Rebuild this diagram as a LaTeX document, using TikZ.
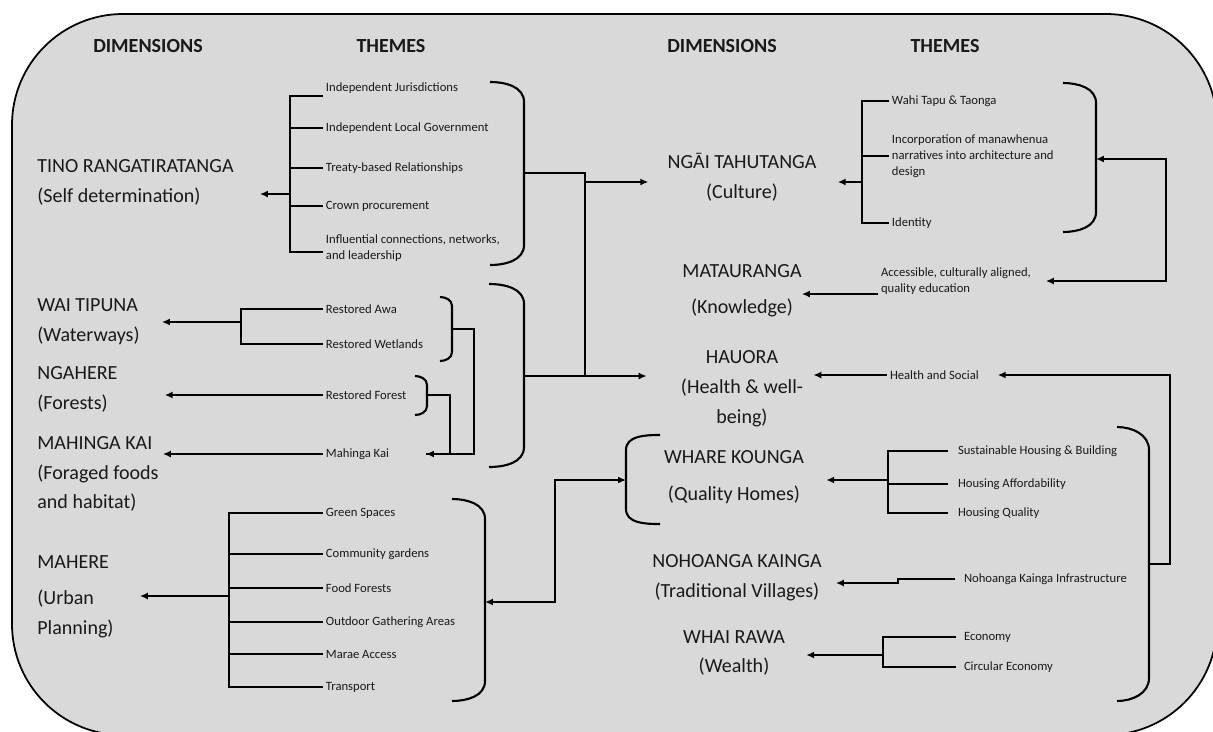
\documentclass[tikz,border=0pt]{standalone}
\usepackage{fontspec}
\setmainfont{Carlito}
\usepackage{tikz}
\usetikzlibrary{positioning, arrows.meta, calc}
\definecolor{panel}{RGB}{217,217,217}

\begin{document}
\begin{tikzpicture}[
    x=0.02cm, y=-0.02cm,
    every node/.style={inner sep=0pt, text=black!90},
    header/.style={font=\fontsize{11.4}{13}\selectfont\bfseries},
    dimleft/.style={anchor=west, align=left, font=\fontsize{11.4}{17}\selectfont},
    dimmid/.style={align=center, font=\fontsize{11.4}{17}\selectfont},
    theme/.style={anchor=west, align=left, inner sep=1.5pt, font=\fontsize{7.2}{9.1}\selectfont},
    conn/.style={black, line width=1.2pt},
    arrow/.style={conn, -{Latex[length=4.5pt, width=4pt]}},
    biarrow/.style={conn, {Latex[length=4.5pt, width=4pt]}-{Latex[length=4.5pt, width=4pt]}},
    brace/.style={black, line width=1.2pt}
]

\useasboundingbox (0,0) rectangle (1213,731);

% Panel
\begin{scope}
\clip (0,0) rectangle (1213,731);
\draw[fill=panel, line width=1pt, rounded corners=2.22cm] (12,14) rectangle (1217,735);
\end{scope}

% Headers
\node[header] (dimL) at (148,46) {DIMENSIONS};
\node[header] (thmL) at (391,46) {THEMES};
\node[header] (dimR) at (722,46) {DIMENSIONS};
\node[header] (thmR) at (945,46) {THEMES};

% Dimensions, left
\node[dimleft] (tino) at (37,182) {TINO RANGATIRATANGA\\(Self determination)};
\node[dimleft] (wai) at (37,322) {WAI TIPUNA\\(Waterways)};
\node[dimleft] (ngahere) at (37,389) {NGAHERE\\(Forests)};
\node[dimleft] (mahinga) at (37,474) {MAHINGA KAI\\(Foraged foods\\and habitat)};
\node[dimleft] (mahere) at (37,597) {MAHERE\\[3.4pt](Urban\\Planning)};

% Dimensions, right
\node[dimmid] (ngai) at (742,177) {NGĀI TAHUTANGA\\(Culture)};
\node[dimmid] (matau) at (742,291) {MATAURANGA\\[3.4pt](Knowledge)};
\node[dimmid] (hauora) at (742,389) {HAUORA\\(Health \& well-\\being)};
\node[dimmid] (whare) at (734,477) {WHARE KOUNGA\\[4pt](Quality Homes)};
\node[dimmid] (noho) at (737,578) {NOHOANGA KAINGA\\(Traditional Villages)};
\node[dimmid] (whai) at (734,653) {WHAI RAWA\\(Wealth)};

% Themes, left
\node[theme] (ij) at (323,88) {Independent Jurisdictions};
\node[theme] (ilg) at (323,128) {Independent Local Government};
\node[theme] (tbr) at (323,168) {Treaty-based Relationships};
\node[theme] (cp) at (323,206) {Crown procurement};
\node[theme] (icl) at (323,248) {Influential connections, networks,\\and leadership};
\node[theme] (ra) at (323,309) {Restored Awa};
\node[theme] (rw) at (323,344) {Restored Wetlands};
\node[theme] (rf) at (323,395) {Restored Forest};
\node[theme] (mk) at (323,454) {Mahinga Kai};
\node[theme] (gs) at (323,513) {Green Spaces};
\node[theme] (cg) at (323,554) {Community gardens};
\node[theme] (ff) at (323,588) {Food Forests};
\node[theme] (oga) at (323,622) {Outdoor Gathering Areas};
\node[theme] (ma) at (323,654) {Marae Access};
\node[theme] (tr) at (323,687) {Transport};

% Themes, right
\node[theme] (wt) at (889,101) {Wahi Tapu \& Taonga};
\node[theme] (inc) at (889,156) {Incorporation of manawhenua\\narratives into architecture and\\design};
\node[theme] (id) at (889,223) {Identity};
\node[theme] (acc) at (878,281) {Accessible, culturally aligned,\\quality education};
\node[theme] (hs) at (887,375) {Health and Social};
\node[theme] (shb) at (955,451) {Sustainable Housing \& Building};
\node[theme] (ha) at (955,484) {Housing Affordability};
\node[theme] (hq) at (955,513) {Housing Quality};
\node[theme] (nki) at (961,579) {Nohoanga Kainga Infrastructure};
\node[theme] (eco) at (961,637) {Economy};
\node[theme] (ce) at (961,667) {Circular Economy};

% Spines
\coordinate (tinoS) at (290,194);
\coordinate (waiS) at (241,322);
\coordinate (mahereS) at (229,596);
\coordinate (ngaiS) at (862,182);
\coordinate (whareS) at (888,480);
\coordinate (whaiS) at (883,655);

% Brackets
\draw[brace] (490,82) to[out=0,in=90] (524,102) -- (524,245) to[out=-90,in=0] (490,265);
\coordinate (tinoB) at (524,173);
\draw[brace] (489,284) to[out=0,in=90] (524,304) -- (524,447) to[out=-90,in=0] (489,467);
\coordinate (restB) at (524,376);
\draw[brace] (440,297) to[out=0,in=90] (452,306) -- (452,352) to[out=-90,in=0] (440,361);
\coordinate (waiB) at (452,329);
\draw[brace] (415,376) to[out=0,in=90] (427,385) -- (427,406) to[out=-90,in=0] (415,415);
\coordinate (forB) at (427,395);
\draw[brace] (452,499) to[out=0,in=90] (485,519) -- (485,681) to[out=-90,in=0] (452,701);
\coordinate (mahB) at (485,602);
\draw[brace] (1063,83) to[out=0,in=90] (1096,103) -- (1096,212) to[out=-90,in=0] (1063,232);
\coordinate (ngB) at (1096,159);
\draw[brace] (660,435) to[out=180,in=90] (626,450) -- (626,509) to[out=-90,in=180] (660,524);
\coordinate (whB) at (626,480);
\draw[brace] (1117,427) to[out=0,in=90] (1149,450) -- (1149,678) to[out=-90,in=0] (1117,701);
\coordinate (bigB) at (1149,564);

% Tino rangatiratanga
\draw[conn] (ij.south west) -| (tinoS);
\draw[conn] (ilg.west) -| (tinoS);
\draw[conn] (tbr.west) -| (tinoS);
\draw[conn] (cp.west) -| (tinoS);
\draw[conn] ([yshift=-2.3pt]icl.west) -| (tinoS);
\draw[arrow, shorten >=0.52cm] (tinoS) -- (tinoS -| tino.east);

% Wai tipuna, Ngahere, Mahinga kai
\draw[conn] (ra.west) -| (waiS);
\draw[conn] (rw.west) -| (waiS);
\draw[arrow, shorten >=0.44cm] (waiS) -- (waiS -| wai.east);
\draw[arrow, shorten >=0.94cm] (rf.west) -- (rf.west -| ngahere.east);
\draw[arrow, shorten >=0.08cm] (mk.west) -- (mk.west -| mahinga.east);
\draw[arrow, shorten >=0.68cm] (waiB) -- ++(22,0) |- (mk.east);
\draw[conn, shorten >=0.68cm] (forB) -- ++(23,0) |- (mk.east);

% Mahere
\draw[conn] (gs.west) -| (mahereS);
\draw[conn] (cg.west) -| (mahereS);
\draw[conn] (ff.west) -| (mahereS);
\draw[conn] (oga.west) -| (mahereS);
\draw[conn] (ma.west) -| (mahereS);
\draw[conn] (tr.west) -| (mahereS);
\draw[arrow, shorten >=0.52cm] (mahereS) -- (mahereS -| mahere.east);
\draw[biarrow] (mahB) -- ++(70,0) |- (whB);

% Into Ngai tahutanga and Hauora
\coordinate (hub) at (585,376);
\coordinate (hubN) at (585,182);
\draw[conn] (tinoB) -| (hub);
\draw[arrow, shorten >=0.38cm] (hubN) -- (hubN -| ngai.west);
\draw[arrow, shorten >=0.68cm] (restB) -- (restB -| hauora.west);

% Ngai tahutanga
\draw[conn] (wt.west) -| (ngaiS);
\draw[conn] (inc.west) -| (ngaiS);
\draw[conn] (id.west) -| (ngaiS);
\draw[arrow, shorten >=0.42cm] (ngaiS) -- (ngaiS -| ngai.east);
\draw[biarrow, shorten >=0.24cm] (ngB) -- ++(70,0) |- (acc.east);

% Matauranga
\coordinate (accOut) at ([yshift=-0.26cm]acc.west);
\draw[arrow] (accOut) -- (accOut -| matau.east);

% Hauora
\draw[arrow, shorten >=0.2cm] (hs.west) -- (hs.west -| hauora.east);
\draw[arrow, shorten >=0.32cm] (bigB) -- ++(21,0) |- (hs.east);

% Whare kounga
\draw[conn] ([xshift=-0.14cm]shb.west) -| (whareS);
\draw[conn] ([xshift=-0.14cm]ha.west) -| (whareS);
\draw[conn] ([xshift=-0.14cm]hq.west) -| (whareS);
\draw[arrow, shorten >=0.44cm] (whareS) -- (whareS -| whare.east);

% Nohoanga kainga
\draw[arrow, shorten >=0.28cm] ([xshift=-0.12cm]nki.west) -- ++(-57,0) -- ++(0,4) coordinate (nkS) -- (nkS -| noho.east);

% Whai rawa
\draw[conn] ([xshift=-0.1cm]eco.west) -| (whaiS);
\draw[conn] ([xshift=-0.1cm]ce.west) -| (whaiS);
\draw[arrow, shorten >=0.42cm] (whaiS) -- (whaiS -| whai.east);

\end{tikzpicture}
\end{document}
